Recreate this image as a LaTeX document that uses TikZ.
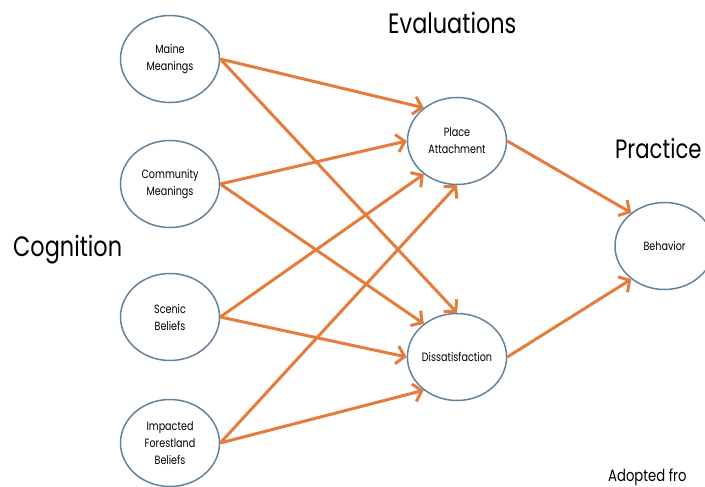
\documentclass[tikz,border=0pt]{standalone}
\usepackage{fontspec}
\setmainfont{Poppins}[FakeStretch=0.8]
\usetikzlibrary{shapes.geometric,arrows.meta}
\definecolor{arr}{RGB}{228,124,62}
\definecolor{edgeblue}{RGB}{100,130,155}
\begin{document}
\begin{tikzpicture}[x=1pt,y=-1pt,
  bub/.style={ellipse, draw=edgeblue, line width=1.5pt, minimum width=99pt, minimum height=87pt,
    inner sep=0pt, align=center, font=\fontsize{12}{17}\selectfont},
  link/.style={draw=arr, line width=3pt, -{Straight Barb[length=8pt,width=18pt]}},
  head/.style={font=\fontsize{28}{30}\selectfont, anchor=base west, inner sep=0pt},
  note/.style={font=\fontsize{16.5}{18}\selectfont, anchor=base west, inner sep=0pt}]
\useasboundingbox (0,0) rectangle (705,487);
\clip (0,0) rectangle (705,487);
\node[bub] (m) at (170,59) {Maine\\Meanings};
\node[bub] (c) at (170,184) {Community\\Meanings};
\node[bub] (s) at (170,317) {Scenic\\Beliefs};
\node[bub] (i) at (170,443) {Impacted\\Forestland\\Beliefs};
\node[bub] (p) at (457,141) {Place\\Attachment};
\node[bub] (d) at (457,357) {Dissatisfaction};
\node[bub] (b) at (664.5,246) {Behavior};
\node[head] (tev) at (388,34) {Evaluations};
\node[head] (tco) at (13,256) {Cognition};
\node[head, font=\fontsize{26.5}{30}\selectfont] (tpr) at (615,158) {Practice};
\node[note] (tad) at (608,481) {Adopted fro};
\draw[link] (m.east) -- (p.135);
\draw[link] (m.east) -- (d.north);
\draw[link] (c.east) -- (p.west);
\draw[link] (c.east) -- (d.135);
\draw[link] (s.east) -- (p.225);
\draw[link] (s.east) -- (d.west);
\draw[link] (i.east) -- (p.south);
\draw[link] (i.east) -- (d.225);
\draw[link] (p.east) -- (b.135);
\draw[link] (d.east) -- (b.225);
\end{tikzpicture}
\end{document}
